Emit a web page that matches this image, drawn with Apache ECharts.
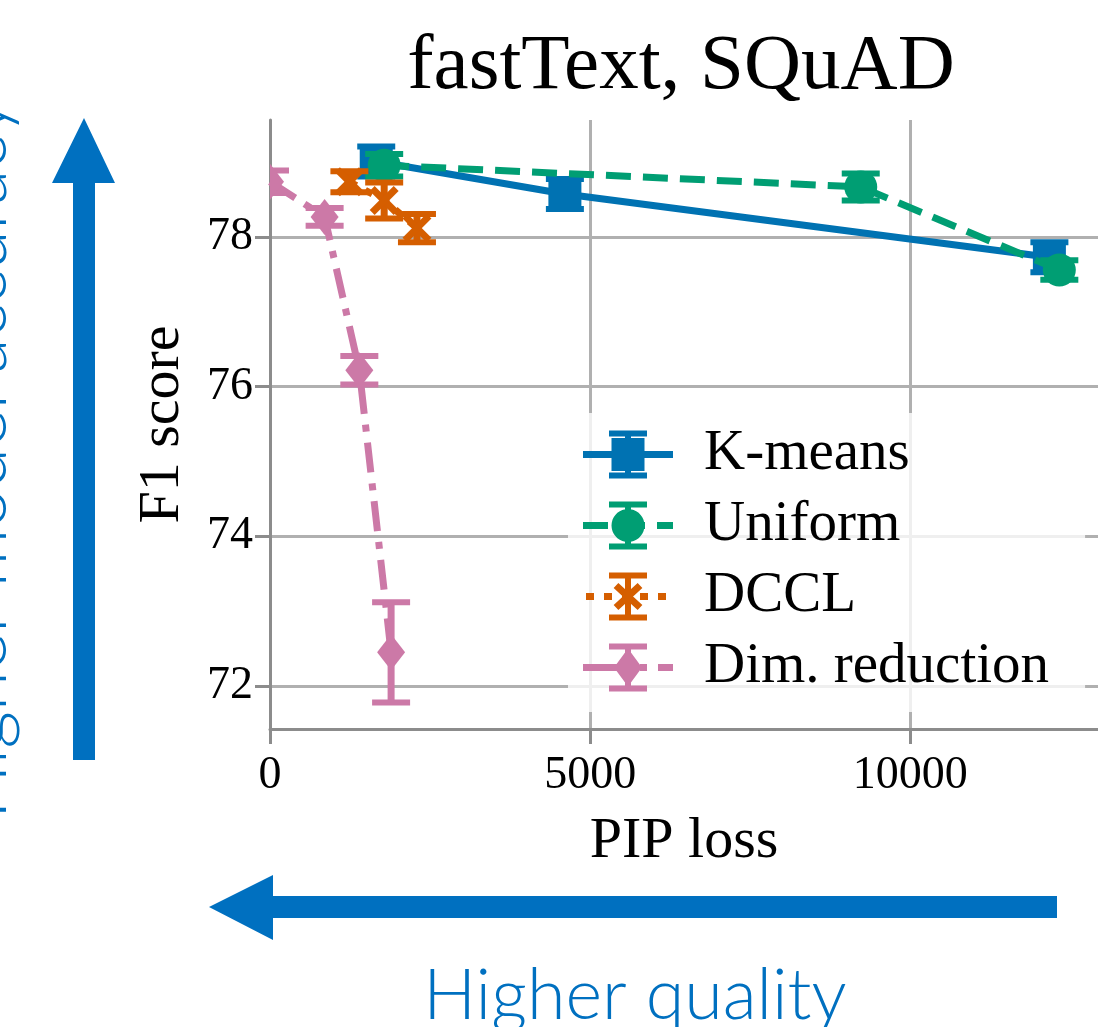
<!DOCTYPE html>
<html><head><meta charset="utf-8">
<script src="https://cdn.jsdelivr.net/npm/echarts@6/dist/echarts.min.js"></script>
<style>html,body{margin:0;padding:0;background:#fff}#c{width:1098px;height:1027px}</style>
</head><body><div id="c"></div>
<script>
// ---- data ----
const seriesNames = ['K-means', 'Uniform', 'DCCL', 'Dim. reduction'];
const kmX = [1659, 4605, 12171];
const kmY = [79.01, 78.575, 77.73];
const kmErr = [0.2, 0.2, 0.2];
const unX = [1783, 9225, 12326];
const unY = [78.96, 78.67, 77.56];
const unErr = [0.15, 0.18, 0.13];
const dcX = [1240, 1783, 2295];
const dcY = [78.74, 78.49, 78.12];
const dcErr = [0.14, 0.24, 0.19];
const drX = [0, 853, 1395, 1891];
const drY = [78.74, 78.27, 76.22, 72.45];
const drErr = [0.15, 0.12, 0.19, 0.67];
const xTicks = [0, 5000, 10000];
const yTicks = [72, 74, 76, 78];
const titleText = 'fastText, SQuAD';
const xName = 'PIP loss';
const yName = 'F1 score';
const noteX = 'Higher quality';
const noteY = 'Higher model accuracy';

// ---- style ----
const COLORS = ['#0072B2', '#009E73', '#D55E00', '#CC79A7'];
const MARKERS = ['square', 'circle', 'x', 'diamond'];
const DASHES = ['solid', [25, 12], [8, 10], [30, 11, 7, 11]];
const SERIF = '"Liberation Serif", "Times New Roman", serif';
const SANS = 'Lato, "Open Sans", sans-serif';
const BLUE = '#0070C0';

function zip(xs, ys) { return xs.map((x, i) => [x, ys[i]]); }
function zip3(xs, ys, es) { return xs.map((x, i) => [x, ys[i], es[i]]); }

// ---- legend icon paths (90 x 48 box) ----
function R(x0, y0, x1, y1) { return `M${x0} ${y0}L${x1} ${y0}L${x1} ${y1}L${x0} ${y1}Z`; }
function P(pts) { return 'M' + pts.map(p => p[0].toFixed(2) + ' ' + p[1].toFixed(2)).join('L') + 'Z'; }
function bar(x0, y0, x1, y1, w) {
  const dx = x1 - x0, dy = y1 - y0, L = Math.hypot(dx, dy);
  const nx = dy / L * w / 2, ny = -dx / L * w / 2;
  return P([[x0 + nx, y0 + ny], [x1 + nx, y1 + ny], [x1 - nx, y1 - ny], [x0 - nx, y0 - ny]]);
}
function circlePath(cx, cy, r) {
  const pts = [];
  for (let i = 0; i < 36; i++) { const a = i / 36 * Math.PI * 2; pts.push([cx + r * Math.cos(a), cy + r * Math.sin(a)]); }
  return P(pts);
}
function iconPath(idx) {
  const cy = 24, cx = 45;
  let d = 'M0 0L0 0M90 48L90 48';
  const segs = [
    [[0, 90]],
    [[0, 25], [37, 62], [74, 90]],
    [[3, 11], [21, 29], [39, 47], [57, 65], [75, 83]],
    [[0, 40], [57, 64], [75, 90]]
  ][idx];
  segs.forEach(s => { d += R(s[0], cy - 3.5, s[1], cy + 3.5); });
  d += R(42, 0, 48, 48) + R(26, 0, 64, 6) + R(26, 42, 64, 48);
  const m = MARKERS[idx];
  if (m === 'square') d += R(cx - 16.5, cy - 16.5, cx + 16.5, cy + 16.5);
  else if (m === 'circle') d += circlePath(cx, cy, 16.5);
  else if (m === 'diamond') d += P([[cx, cy - 19], [cx + 14, cy], [cx, cy + 19], [cx - 14, cy]]);
  else { d += bar(cx - 12, cy - 11, cx + 12, cy + 11, 7) + bar(cx + 12, cy - 11, cx - 12, cy + 11, 7); }
  return 'path://' + d;
}

// ---- marker + error bar renderer ----
function markerEl(m, cx, cy, color) {
  if (m === 'square') return { type: 'rect', shape: { x: cx - 16.5, y: cy - 16.5, width: 33, height: 33 }, style: { fill: color } };
  if (m === 'circle') return { type: 'circle', shape: { cx: cx, cy: cy, r: 16.5 }, style: { fill: color } };
  if (m === 'diamond') return { type: 'polygon', shape: { points: [[cx, cy - 18], [cx + 14, cy], [cx, cy + 18], [cx - 14, cy]] }, style: { fill: color } };
  return { type: 'group', children: [
    { type: 'line', shape: { x1: cx - 12, y1: cy - 12, x2: cx + 12, y2: cy + 12 }, style: { stroke: color, lineWidth: 7 } },
    { type: 'line', shape: { x1: cx + 12, y1: cy - 12, x2: cx - 12, y2: cy + 12 }, style: { stroke: color, lineWidth: 7 } }
  ] };
}
function makeRender(idx) {
  const color = COLORS[idx], m = MARKERS[idx];
  return function (params, api) {
    const x = api.value(0), y = api.value(1), e = api.value(2);
    const c = api.coord([x, y]);
    const t = api.coord([x, y + e]);
    const b = api.coord([x, y - e]);
    return { type: 'group', children: [
      { type: 'line', shape: { x1: c[0], y1: t[1], x2: c[0], y2: b[1] }, style: { stroke: color, lineWidth: 7 } },
      { type: 'line', shape: { x1: c[0] - 19, y1: t[1], x2: c[0] + 19, y2: t[1] }, style: { stroke: color, lineWidth: 6 } },
      { type: 'line', shape: { x1: c[0] - 19, y1: b[1], x2: c[0] + 19, y2: b[1] }, style: { stroke: color, lineWidth: 6 } },
      markerEl(m, c[0], c[1], color)
    ] };
  };
}

const XS = [kmX, unX, dcX, drX], YS = [kmY, unY, dcY, drY], ES = [kmErr, unErr, dcErr, drErr];
const series = [];
seriesNames.forEach((name, i) => {
  series.push({
    name: name, type: 'line', data: zip(XS[i], YS[i]), symbol: 'none', z: 2 + 2 * i, clip: true, silent: true,
    color: COLORS[i], itemStyle: { color: COLORS[i], borderWidth: 0 },
    lineStyle: { color: COLORS[i], width: 7, type: DASHES[i], cap: 'butt' }
  });
  series.push({
    name: name + ' (err)', type: 'custom', data: zip3(XS[i], YS[i], ES[i]), encode: { x: 0, y: 1 },
    renderItem: makeRender(i), z: 3 + 2 * i, clip: true, silent: true
  });
});

const axisGray = '#8c8c8c', gridGray = '#b0b0b0';
const chart = echarts.init(document.getElementById('c'), null, { renderer: 'canvas' });
chart.setOption({
  animation: false,
  backgroundColor: '#fff',
  title: {
    text: titleText, left: 676, top: 23, textAlign: 'center',
    textStyle: { fontFamily: SERIF, fontSize: 79, fontWeight: 'normal', color: '#000' }
  },
  grid: { left: 270, right: -6, top: 120, bottom: 298, containLabel: false },
  xAxis: {
    type: 'value', min: 0, max: 12930,
    name: xName, nameLocation: 'middle', nameGap: 84,
    nameTextStyle: { fontFamily: SERIF, fontSize: 58, color: '#000' },
    axisLine: { show: true, lineStyle: { color: axisGray, width: 3 } },
    axisTick: { show: true, length: 15, lineStyle: { color: axisGray, width: 3 }, customValues: xTicks },
    axisLabel: { customValues: xTicks, formatter: v => String(v), fontFamily: SERIF, fontSize: 46, color: '#000', margin: 24 },
    splitLine: { show: true, lineStyle: { color: gridGray, width: 3 } }
  },
  yAxis: {
    type: 'value', min: 71.425, max: 79.565,
    name: yName, nameLocation: 'middle', nameGap: 78, nameRotate: 90,
    nameTextStyle: { fontFamily: SERIF, fontSize: 58, color: '#000' },
    axisLine: { show: true, lineStyle: { color: axisGray, width: 3 } },
    axisTick: { show: true, length: 15, lineStyle: { color: axisGray, width: 3 }, customValues: yTicks },
    axisLabel: { customValues: yTicks, formatter: v => String(v), fontFamily: SERIF, fontSize: 46, color: '#000', margin: 17 },
    splitLine: { show: true, lineStyle: { color: gridGray, width: 3 } }
  },
  legend: {
    data: seriesNames.map((n, i) => ({ name: n, icon: iconPath(i) })),
    orient: 'vertical', left: 568, top: 413, z: 20,
    padding: [13, 36, 16, 15], itemWidth: 90, itemHeight: 48, itemGap: 14,
    backgroundColor: 'rgba(255,255,255,0.8)', borderWidth: 0,
    selectedMode: false, symbolKeepAspect: true,
    itemStyle: { borderWidth: 0 },
    textStyle: { fontFamily: SERIF, fontSize: 57, color: '#000', padding: [0, 0, 0, 26] }
  },
  graphic: [
    { type: 'polygon', z: 100, shape: { points: [[84, 118], [115, 183], [95, 183], [95, 760], [73, 760], [73, 183], [52, 183]] }, style: { fill: BLUE } },
    { type: 'polygon', z: 100, shape: { points: [[209, 907], [273, 875], [273, 896], [1057, 896], [1057, 918], [273, 918], [273, 940]] }, style: { fill: BLUE } },
    { type: 'text', z: 100, x: 635, y: 996, style: { text: noteX, fontFamily: SANS, fontWeight: 300, fontSize: 70, fill: BLUE, align: 'center', verticalAlign: 'middle', textAlign: 'center', textVerticalAlign: 'middle' } },
    { type: 'text', z: 100, x: -18, y: 459, rotation: Math.PI / 2, style: { text: noteY, fontFamily: SANS, fontWeight: 300, fontSize: 73, fill: BLUE, align: 'center', verticalAlign: 'middle', textAlign: 'center', textVerticalAlign: 'middle' } }
  ],
  series: series
});
</script></body></html>
